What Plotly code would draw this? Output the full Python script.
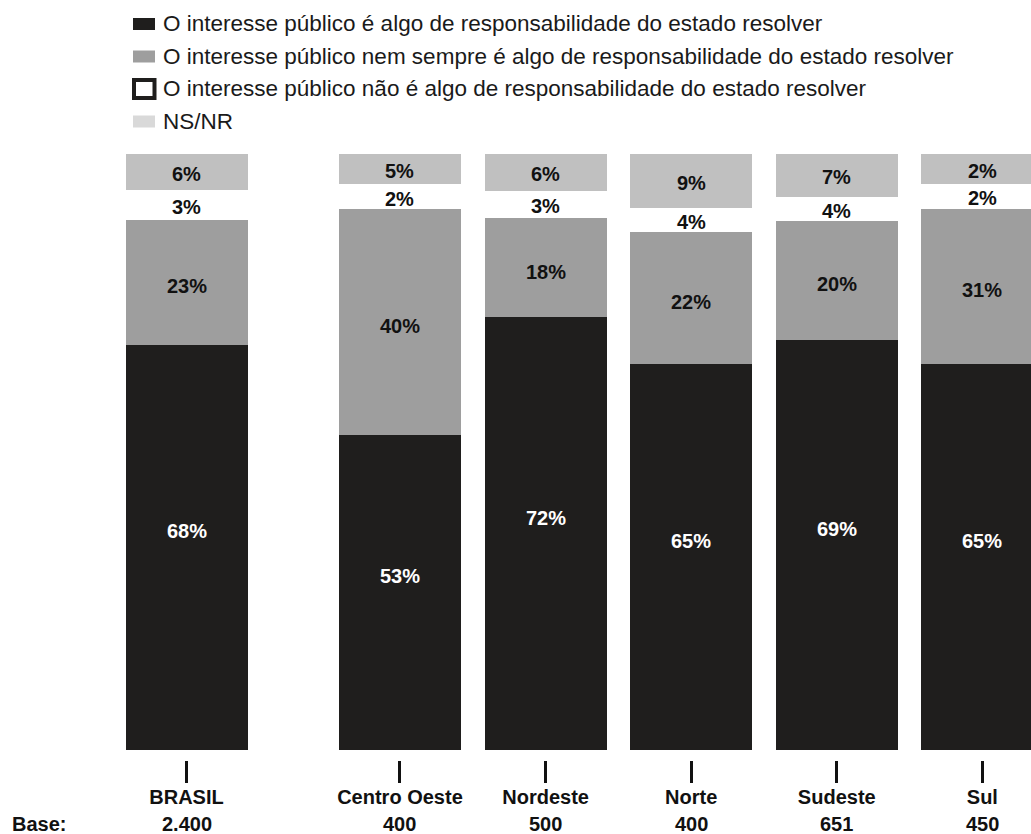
import plotly.graph_objects as go

categories = ["BRASIL", "Centro Oeste", "Nordeste", "Norte", "Sudeste", "Sul"]
bases = ["2.400", "400", "500", "400", "651", "450"]
x_pos = [0, 1.466, 2.466, 3.466, 4.466, 5.466]

series_names = [
    "O interesse público é algo de responsabilidade do estado resolver",
    "O interesse público nem sempre é algo de responsabilidade do estado resolver",
    "O interesse público não é algo de responsabilidade do estado resolver",
    "NS/NR",
]
# percentages printed on the chart
label_sim = [68, 53, 72, 65, 69, 65]
label_nem = [23, 40, 18, 22, 20, 31]
label_nao = [3, 2, 3, 4, 4, 2]
label_nsnr = [6, 5, 6, 9, 7, 2]
# segment heights as drawn in the chart (% of bar height)
drawn_sim = [68.0, 52.9, 72.6, 64.8, 68.8, 64.8]
drawn_nem = [21.0, 37.9, 16.7, 22.1, 20.0, 26.0]
drawn_nao = [4.9, 4.1, 4.5, 4.0, 4.0, 4.2]
drawn_nsnr = [6.3, 5.1, 6.3, 9.2, 7.2, 5.1]

colors = ["#1f1e1d", "#9e9e9e", "#ffffff", "#c0c0c0"]
legend_colors = ["#1f1e1d", "#9e9e9e", "#ffffff", "#d9d9d9"]
text_colors = ["#ffffff", "#111111", "#111111", "#111111"]
label_shift = [16, -4, -2, -2]

FONT = "Arial, Liberation Sans, sans-serif"

W, H = 1031, 834
PT, PB = 154, 760  # plot area top / bottom in pixels


def py(p):
    return (PB - p) / (PB - PT)


def px(p):
    return p / W


fig = go.Figure()
annotations = []
drawn_all = [drawn_sim, drawn_nem, drawn_nao, drawn_nsnr]
labels_all = [label_sim, label_nem, label_nao, label_nsnr]
cum = [0.0] * len(categories)
for name, vals, labs, col, tcol, sh in zip(series_names, drawn_all, labels_all, colors, text_colors, label_shift):
    fig.add_trace(go.Bar(
        x=x_pos, y=vals, name=name, width=0.838,
        marker=dict(color=col, line=dict(width=0)),
        showlegend=False, hoverinfo="skip",
    ))
    for i, (v, lab) in enumerate(zip(vals, labs)):
        annotations.append(dict(
            xref="x", yref="y", x=x_pos[i], y=cum[i] + v / 2, yshift=sh,
            xanchor="center", yanchor="middle", showarrow=False,
            text=f"{lab}%", font=dict(family=FONT, size=20, color=tcol, weight="bold")))
        cum[i] += v

# manual legend
row_centers = [24, 56.5, 89, 121.5]
shapes = []
for i, (name, col) in enumerate(zip(series_names, legend_colors)):
    c = row_centers[i]
    if i == 2:
        shapes.append(dict(type="rect", xref="paper", yref="paper",
                           x0=px(134), x1=px(154.5), y0=py(c + 9), y1=py(c - 9),
                           fillcolor="#ffffff", line=dict(color="#1f1e1d", width=4)))
    else:
        shapes.append(dict(type="rect", xref="paper", yref="paper",
                           x0=px(133), x1=px(155), y0=py(c + 6), y1=py(c - 6),
                           fillcolor=col, line=dict(width=0)))
    annotations.append(dict(xref="paper", yref="paper", x=px(161), y=py(c),
                            xanchor="left", yanchor="middle", showarrow=False,
                            text=name, font=dict(family=FONT, size=22.5, color="#1a1a1a")))

# base row
annotations.append(dict(xref="paper", yref="paper", x=px(10), y=py(824),
                        xanchor="left", yanchor="middle", showarrow=False,
                        text="<b>Base:</b>", font=dict(family=FONT, size=20, color="#111111")))
for xp, b in zip(x_pos, bases):
    annotations.append(dict(xref="x", yref="paper", x=xp, y=py(824),
                            xanchor="center", yanchor="middle", showarrow=False,
                            text=f"<b>{b}</b>", font=dict(family=FONT, size=20, color="#111111")))

fig.update_layout(
    width=W, height=H,
    margin=dict(l=0, r=0, t=PT, b=H - PB, pad=0),
    paper_bgcolor="white", plot_bgcolor="white",
    barmode="stack", bargap=0,
    shapes=shapes, annotations=annotations,
    xaxis=dict(range=[-1.281, 5.800], tickmode="array", tickvals=x_pos,
               ticktext=categories, ticklabelstandoff=-3,
               tickfont=dict(family=FONT, size=20, color="#111111", weight="bold"),
               ticks="outside", ticklen=22, tickwidth=3, tickcolor="#111111",
               showline=False, showgrid=False, zeroline=False, fixedrange=True),
    yaxis=dict(range=[-1.68, 100], visible=False, showgrid=False, zeroline=False, fixedrange=True),
    font=dict(family=FONT),
)

fig.write_html("out.html")
